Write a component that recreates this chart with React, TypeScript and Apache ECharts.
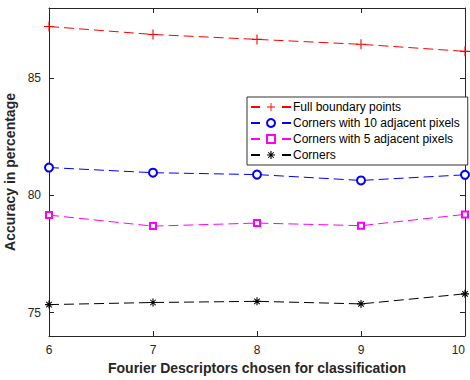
import React, { useEffect, useRef } from "react";
import * as echarts from "echarts";

const xValues = [6, 7, 8, 9, 10];
const fullBoundary = [87.21, 86.87, 86.66, 86.45, 86.15];
const corners10 = [81.19, 80.97, 80.89, 80.64, 80.88];
const corners5 = [79.16, 78.69, 78.82, 78.71, 79.19];
const corners = [75.34, 75.43, 75.48, 75.37, 75.8];
const yTicks = [75, 80, 85];
const seriesNames = [
  "Full boundary points",
  "Corners with 10 adjacent pixels",
  "Corners with 5 adjacent pixels",
  "Corners",
];

const plusPath = "path://M-0.55,-5h1.1v10h-1.1z M-5,-0.55h10v1.1h-10z";
const starPath =
  "path://M-0.7,-5h1.4v10h-1.4z M-5,-0.7h10v1.4h-10z M-3.9,-3L-3,-3.9L3.9,3L3,3.9z M3,-3.9L3.9,-3L-3,3.9L-3.9,3z";

const axisColor = "#262626";
const font = "'Liberation Sans', Arial, sans-serif";

export default function App() {
  const ref = useRef<HTMLDivElement>(null);
  useEffect(() => {
    if (!ref.current) return;
    const chart = echarts.init(ref.current, undefined, { renderer: "svg" });
    const mk = (d: number[]) => d.map((v, i) => [xValues[i], v]);
    const baseX = {
      type: "value",
      min: 6,
      max: 10,
      interval: 1,
      splitLine: { show: false },
      axisLine: { show: true, lineStyle: { color: axisColor, width: 1 } },
      axisTick: { show: true, inside: true, length: 5, lineStyle: { color: axisColor } },
    };
    const baseY = {
      type: "value",
      min: 74,
      max: 88,
      splitLine: { show: false },
      axisLine: { show: true, lineStyle: { color: axisColor, width: 1 } },
      axisTick: {
        show: true,
        inside: true,
        length: 5,
        customValues: yTicks,
        lineStyle: { color: axisColor },
      },
    };
    const dash = [10, 5];
    chart.setOption({
      animation: false,
      backgroundColor: "#ffffff",
      textStyle: { fontFamily: font },
      grid: { left: 49, right: 5, top: 8, bottom: 44, outerBoundsMode: "none", containLabel: false },
      legend: {
        orient: "vertical",
        left: 247,
        top: 97,
        width: 216,
        padding: [4, 8, 4, 3],
        itemGap: 4,
        itemWidth: 40,
        itemHeight: 10,
        borderColor: "#333",
        borderWidth: 1,
        backgroundColor: "#fff",
        lineStyle: { type: [9, 22] },
        textStyle: { fontSize: 12, color: "#000", fontFamily: font, padding: [0, 0, 0, -3] },
        data: seriesNames,
      },
      xAxis: [
        {
          ...baseX,
          position: "bottom",
          name: "Fourier Descriptors chosen for classification",
          nameLocation: "middle",
          nameGap: 25,
          nameTextStyle: { fontSize: 14, fontWeight: "bold", color: axisColor, fontFamily: font },
          axisLabel: {
            fontSize: 12,
            color: axisColor,
            margin: 8,
            fontFamily: font,
            alignMaxLabel: "right",
          },
        },
        { ...baseX, position: "top", axisLabel: { show: false } },
      ],
      yAxis: [
        {
          ...baseY,
          position: "left",
          name: "Accuracy in percentage",
          nameLocation: "middle",
          nameGap: 18,
          nameTextStyle: { fontSize: 14, fontWeight: "bold", color: axisColor, fontFamily: font },
          axisLabel: {
            fontSize: 12,
            color: axisColor,
            margin: 8,
            customValues: yTicks,
            fontFamily: font,
          },
        },
        { ...baseY, position: "right", axisLabel: { show: false } },
      ],
      series: [
        {
          name: seriesNames[0],
          type: "line",
          data: mk(fullBoundary),
          symbol: plusPath,
          symbolSize: 10,
          lineStyle: { color: "#ff0000", width: 1, type: dash },
          itemStyle: { color: "#ff0000" },
        },
        {
          name: seriesNames[1],
          type: "line",
          data: mk(corners10),
          symbol: "emptyCircle",
          symbolSize: 8,
          lineStyle: { color: "#0000ff", width: 1, type: dash },
          itemStyle: { color: "#0000ff", borderWidth: 1 },
        },
        {
          name: seriesNames[2],
          type: "line",
          data: mk(corners5),
          symbol: "emptyRect",
          symbolSize: 6,
          lineStyle: { color: "#ff00ff", width: 1, type: dash },
          itemStyle: { color: "#ff00ff", borderWidth: 1 },
        },
        {
          name: seriesNames[3],
          type: "line",
          data: mk(corners),
          symbol: starPath,
          symbolSize: 8,
          lineStyle: { color: "#000000", width: 1, type: dash },
          itemStyle: { color: "#000000" },
        },
      ],
    });
    return () => chart.dispose();
  }, []);
  return (
    <div
      ref={ref}
      style={{ position: "fixed", left: 0, top: 0, width: 470, height: 380 }}
    />
  );
}
